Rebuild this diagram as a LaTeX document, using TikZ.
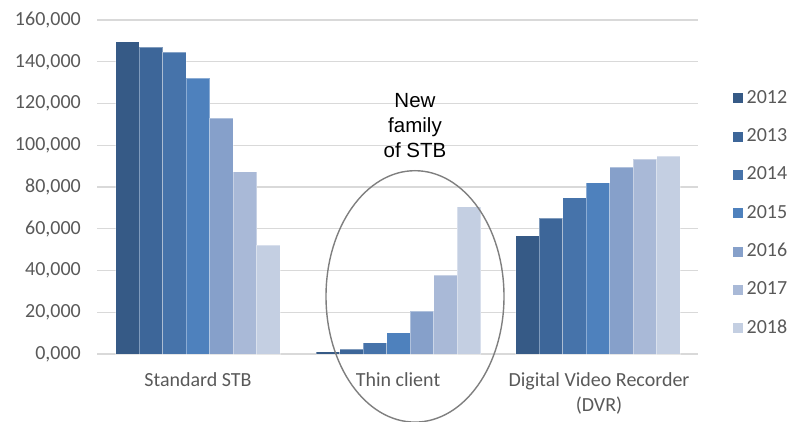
\documentclass[tikz,border=0pt]{standalone}
\usepackage{fontspec}
\usetikzlibrary{shapes.geometric}
\setmainfont{Carlito}
\newfontfamily\arialfont{Liberation Sans}
\definecolor{c1}{HTML}{365A86}
\definecolor{c2}{HTML}{3D6699}
\definecolor{c3}{HTML}{4673AA}
\definecolor{c4}{HTML}{4E81BD}
\definecolor{c5}{HTML}{86A0CA}
\definecolor{c6}{HTML}{A9B9D7}
\definecolor{c7}{HTML}{C4CFE2}
\definecolor{gridc}{HTML}{D9D9D9}
\definecolor{labc}{HTML}{595959}
\definecolor{ellc}{HTML}{7F7F7F}
\tikzset{
  gridline/.style={draw=gridc, line width=1.1pt},
  axislab/.style={font=\fontsize{20}{24}\selectfont, text=labc, inner sep=0pt},
  bar/.style={draw=white, draw opacity=0.35, line width=0.6pt},
  note/.style={font=\arialfont\fontsize{20.5}{25}\selectfont, align=center, inner sep=0pt, text=black},
  ring/.style={draw=ellc, line width=1.4pt}
}
\begin{document}
\begin{tikzpicture}[x=1pt,y=-1pt]
\useasboundingbox (0,0) rectangle (793,422);
% grid and y labels
\foreach \i/\lab in {0/{0,000},1/{20,000},2/{40,000},3/{60,000},4/{80,000},5/{100,000},6/{120,000},7/{140,000},8/{160,000}}{
  \draw[gridline] (97,{354-\i*41.75}) -- (698,{354-\i*41.75});
  \node[axislab, anchor=base east] (ylab\i) at (81,{354-\i*41.75+5.5}) {\lab};
}
% bars
\foreach \g/\xs/\vals in {1/115.7/{149.6,146.9,144.7,132.1,112.9,87.3,52.2},
                           2/316/{1.1,2.4,5.4,10.2,20.6,37.8,70.6},
                           3/515.7/{56.7,65.0,74.9,82.1,89.4,93.5,94.7}}{
  \foreach \v [count=\k from 0] in \vals {
    \pgfmathtruncatemacro{\cc}{\k+1}
    \fill[c\cc] ({\xs+\k*23.5},354) rectangle ({\xs+(\k+1)*23.5},{354-\v*2.0875});
    \draw[bar] ({\xs+\k*23.5},354) rectangle ({\xs+(\k+1)*23.5},{354-\v*2.0875});
  }
}
% category labels
\node[axislab, anchor=base] (cat1) at (198,386) {Standard STB};
\node[axislab, anchor=base] (cat2) at (398,386) {Thin client};
\node[axislab, anchor=base] (cat3) at (599,386.5) {Digital Video Recorder};
\node[axislab, anchor=base] (cat3b) at (599,411.5) {(DVR)};
% legend
\foreach \yr [count=\k from 0] in {2012,2013,2014,2015,2016,2017,2018}{
  \pgfmathtruncatemacro{\cc}{\k+1}
  \fill[c\cc] (733.3,{93.3+\k*38.33}) rectangle (743.3,{103.3+\k*38.33});
  \node[axislab, anchor=base west] (leg\yr) at (746.5,{103.3+\k*38.33}) {\yr};
}
% annotation
\node[ring, ellipse, minimum width=178pt, minimum height=251.4pt, inner sep=0pt] (ring) at (415,296.4) {};
\node[note, anchor=north] (newfam) at (415,93) {New\\family\\of STB};
\end{tikzpicture}
\end{document}
